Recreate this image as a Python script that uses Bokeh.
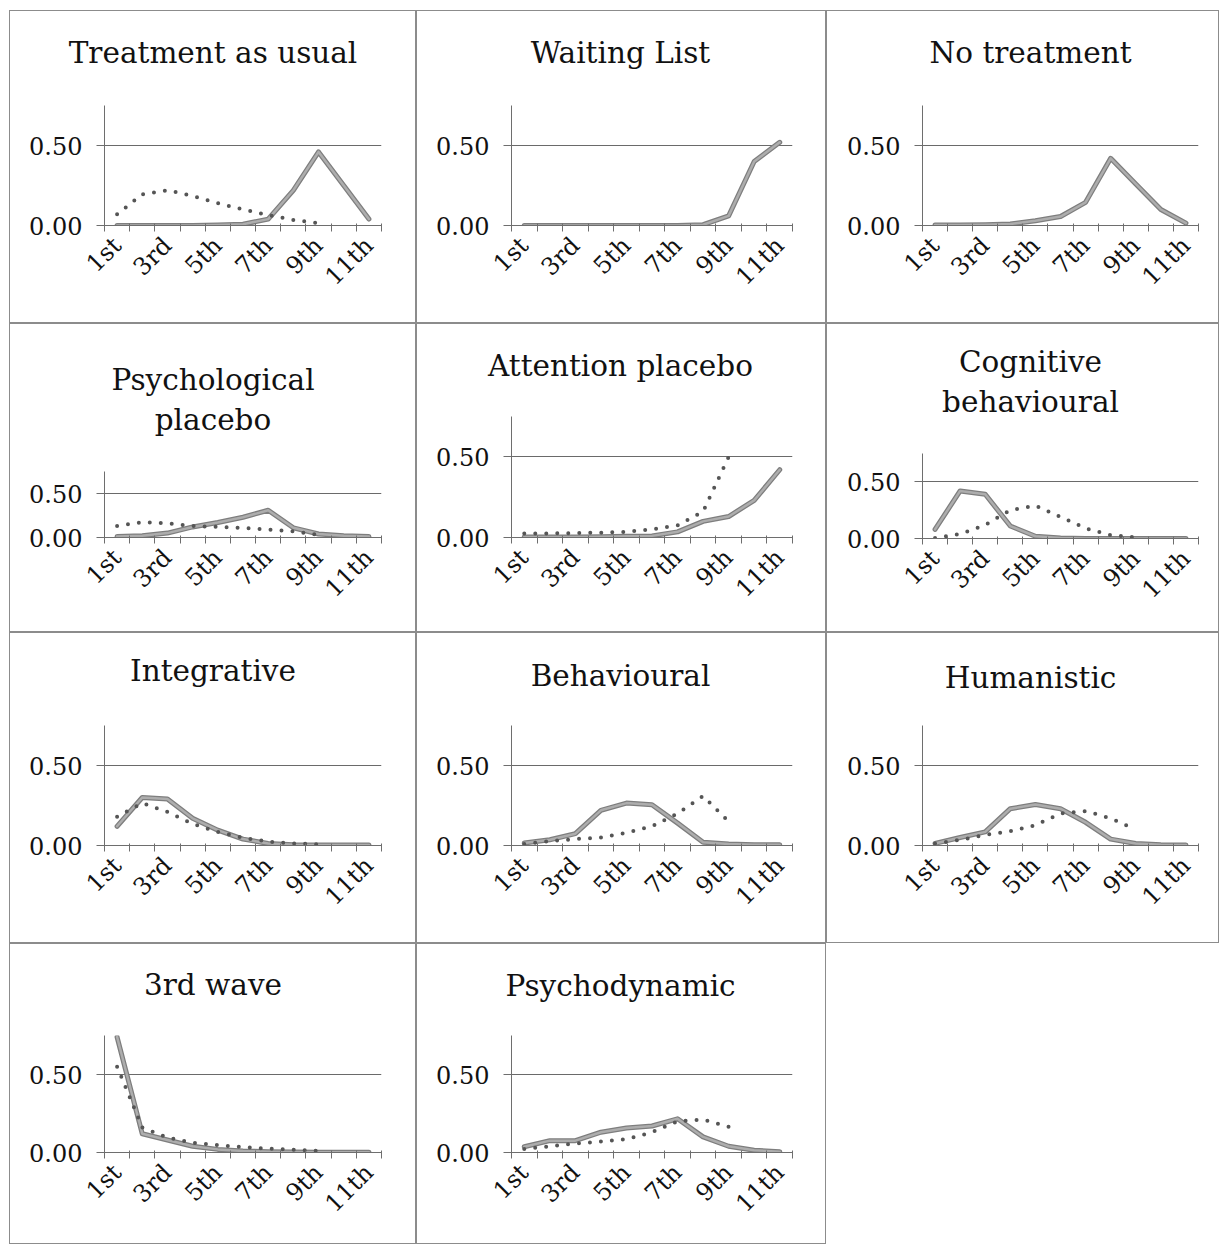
import math
from bokeh.plotting import figure
from bokeh.layouts import column, row, Spacer
from bokeh.models import FixedTicker, NumeralTickFormatter, Range1d
from bokeh.core.properties import value
from bokeh.embed import file_html
from bokeh.resources import INLINE

# ---------------- data ----------------
ranks = ["1st", "2nd", "3rd", "4th", "5th", "6th", "7th", "8th", "9th", "10th", "11th"]
y_ticks = [0.0, 0.5]
y_max = 0.75

tau_solid = [0.0, 0.0, 0.0, 0.0, 0.003, 0.008, 0.04, 0.22, 0.46, 0.25, 0.04]
tau_dotted = [0.07, 0.195, 0.22, 0.185, 0.14, 0.10, 0.065, 0.035, 0.015]

wl_solid = [0.0, 0.0, 0.0, 0.0, 0.0, 0.0, 0.0, 0.005, 0.06, 0.40, 0.52]
wl_dotted = []

nt_solid = [0.003, 0.003, 0.005, 0.01, 0.03, 0.056, 0.145, 0.42, 0.26, 0.10, 0.015]
nt_dotted = []

pp_solid = [0.01, 0.02, 0.05, 0.12, 0.17, 0.23, 0.31, 0.11, 0.04, 0.02, 0.01]
pp_dotted = [0.13, 0.175, 0.16, 0.13, 0.12, 0.11, 0.09, 0.07, 0.03]

ap_solid = [0.003, 0.003, 0.003, 0.005, 0.007, 0.01, 0.035, 0.10, 0.13, 0.23, 0.42]
ap_dotted = [0.025, 0.025, 0.027, 0.03, 0.035, 0.05, 0.075, 0.16, 0.50]

cbt_solid = [0.08, 0.42, 0.39, 0.11, 0.02, 0.005, 0.0, 0.0, 0.0, 0.0, 0.0]
cbt_dotted = [0.005, 0.04, 0.12, 0.25, 0.29, 0.19, 0.09, 0.03, 0.01]

int_solid = [0.12, 0.30, 0.29, 0.17, 0.096, 0.04, 0.013, 0.005, 0.003, 0.003, 0.003]
int_dotted = [0.18, 0.265, 0.21, 0.135, 0.085, 0.048, 0.024, 0.013, 0.007]

beh_solid = [0.015, 0.036, 0.074, 0.22, 0.265, 0.255, 0.14, 0.02, 0.01, 0.005, 0.004]
beh_dotted = [0.01, 0.028, 0.04, 0.05, 0.08, 0.12, 0.20, 0.31, 0.15]

hum_solid = [0.013, 0.05, 0.085, 0.23, 0.256, 0.23, 0.145, 0.04, 0.013, 0.005, 0.003]
hum_dotted = [0.013, 0.035, 0.066, 0.09, 0.127, 0.20, 0.215, 0.17, 0.10]

tw_solid = [0.74, 0.12, 0.08, 0.04, 0.02, 0.01, 0.005, 0.003, 0.002, 0.002, 0.002]
tw_dotted = [0.55, 0.16, 0.095, 0.063, 0.047, 0.035, 0.025, 0.017, 0.01]

pd_solid = [0.037, 0.076, 0.076, 0.13, 0.157, 0.17, 0.216, 0.10, 0.04, 0.015, 0.005]
pd_dotted = [0.022, 0.04, 0.057, 0.07, 0.085, 0.13, 0.20, 0.212, 0.165]

panel_titles = [
    [["Treatment as usual"], ["Waiting List"], ["No treatment"]],
    [["Psychological", "placebo"], ["Attention placebo"], ["Cognitive", "behavioural"]],
    [["Integrative"], ["Behavioural"], ["Humanistic"]],
    [["3rd wave"], ["Psychodynamic"]],
]
panel_series = [
    [(tau_solid, tau_dotted), (wl_solid, wl_dotted), (nt_solid, nt_dotted)],
    [(pp_solid, pp_dotted), (ap_solid, ap_dotted), (cbt_solid, cbt_dotted)],
    [(int_solid, int_dotted), (beh_solid, beh_dotted), (hum_solid, hum_dotted)],
    [(tw_solid, tw_dotted), (pd_solid, pd_dotted)],
]

# ---------------- layout (pixels) ----------------
PAGE_LEFT, PAGE_TOP = 9, 10
COL_W = [407, 410, 393]
COL_L = [95, 95, 96]
COL_R = [35, 34, 21]
ROW_H = [313, 309, 311, 301]
# (space above the plot frame, space below it) for each panel
ROW_TB = [
    [(95, 98), (95, 98), (95, 98)],
    [(148, 95), (93, 95), (130, 94)],
    [(93, 98), (93, 98), (93, 98)],
    [(92, 92), (92, 92)],
]
# baseline of each title line, measured from the top of the panel
TITLE_BASE = [
    [[42], [42], [42]],
    [[56, 96], [42], [38, 78]],
    [[38], [43], [45]],
    [[41], [42]],
]
TITLE_CX = [203.5, 204, 204]
GAP = 8
FONT = "DejaVu Serif"
TXT = "#111111"
AX = "#6e6e6e"
PANEL_STYLE = {"box-shadow": "inset 0 0 0 1px #8c8c8c", "background-color": "white"}


def make_panel(r, c):
    top, bottom = ROW_TB[r][c]
    left, right = COL_L[c], COL_R[c]
    W, H = COL_W[c], ROW_H[r]
    th = top - GAP

    # title strip
    t = figure(width=W, height=th, output_backend="svg", toolbar_location=None,
               x_range=Range1d(0, W), y_range=Range1d(0, th),
               x_axis_type=None, y_axis_type=None, min_border=0,
               background_fill_color=None, border_fill_color=None)
    t.frame_align = False
    t.outline_line_color = None
    t.grid.visible = False
    lines = panel_titles[r][c]
    t.text(x=[TITLE_CX[c]] * len(lines), y=[th - b for b in TITLE_BASE[r][c]], text=lines,
           text_align="center", text_baseline="alphabetic",
           text_font=value(FONT), text_font_size=value("29.5px"), text_color=TXT)

    # chart
    p = figure(width=W, height=H - th, output_backend="svg", toolbar_location=None,
               x_range=Range1d(0.5, len(ranks) + 0.5), y_range=Range1d(0, y_max),
               min_border_left=left, min_border_right=right,
               min_border_top=GAP, min_border_bottom=bottom,
               background_fill_color=None, border_fill_color=None)
    p.frame_align = False
    p.outline_line_color = None

    xa = p.xaxis[0]
    xa.ticker = FixedTicker(ticks=[i + 1 for i in range(0, len(ranks), 2)],
                            minor_ticks=[i + 0.5 for i in range(len(ranks) + 1)])
    xa.major_label_overrides = {i + 1: ranks[i] for i in range(0, len(ranks), 2)}
    xa.major_label_orientation = math.pi / 4
    xa.major_tick_line_color = None
    xa.major_tick_out = 0
    xa.major_tick_in = 0
    xa.minor_tick_line_color = AX
    xa.minor_tick_out = 6
    xa.minor_tick_in = 2
    xa.axis_line_color = AX
    xa.major_label_text_font = FONT
    xa.major_label_text_font_size = "24px"
    xa.major_label_text_color = TXT
    xa.major_label_standoff = 10

    ya = p.yaxis[0]
    ya.ticker = FixedTicker(ticks=y_ticks)
    ya.formatter = NumeralTickFormatter(format="0.00")
    ya.major_tick_out = 8
    ya.major_tick_in = 0
    ya.major_tick_line_color = AX
    ya.minor_tick_line_color = None
    ya.axis_line_color = AX
    ya.major_label_text_font = FONT
    ya.major_label_text_font_size = "24px"
    ya.major_label_text_color = TXT
    ya.major_label_standoff = 14

    p.xgrid.visible = False
    p.ygrid.ticker = FixedTicker(ticks=[y_ticks[1]])
    p.ygrid.grid_line_color = "#6a6a6a"
    p.ygrid.grid_line_width = 1

    solid, dotted = panel_series[r][c]
    xs = [i + 1 for i in range(len(solid))]
    p.line(xs, solid, line_color="#7e7e7e", line_width=5, line_join="round", line_cap="round")
    p.line(xs, solid, line_color="#adadad", line_width=2.5, line_join="round", line_cap="round")
    if dotted:
        xd = [i + 1 for i in range(len(dotted))]
        p.line(xd, dotted, line_color="#555555", line_width=4, line_dash="0 11", line_cap="round")

    return column(t, p, styles=PANEL_STYLE)


rows = [Spacer(width=10, height=PAGE_TOP)]
for r in range(len(panel_titles)):
    cells = [Spacer(width=PAGE_LEFT, height=ROW_H[r])]
    cells += [make_panel(r, c) for c in range(len(panel_titles[r]))]
    rows.append(row(*cells))

page = column(*rows)
open("out.html", "w").write(file_html(page, INLINE))
